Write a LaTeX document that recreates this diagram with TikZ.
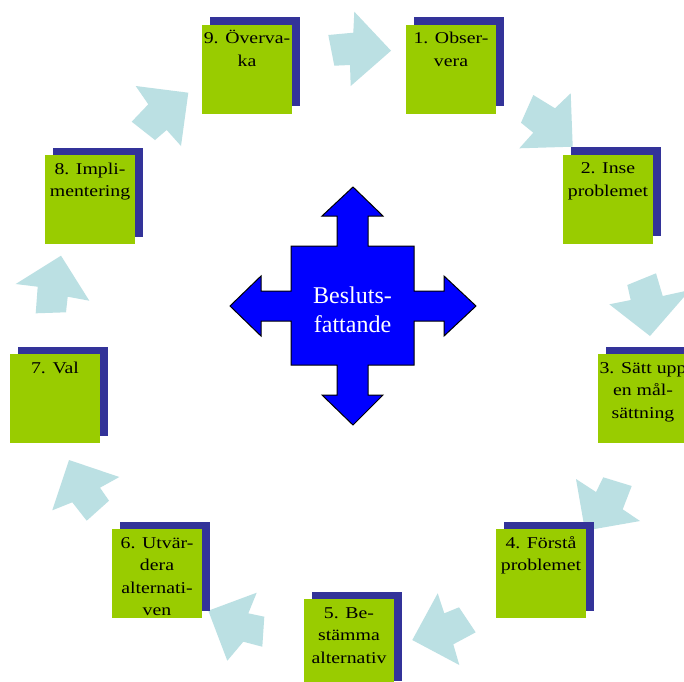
\documentclass[tikz,border=0pt]{standalone}
\usepackage{fontspec}
\usetikzlibrary{shadows}
\newfontfamily\boxfont[FakeStretch=1.2]{Liberation Serif}
\newfontfamily\hubfont{Liberation Serif}
\definecolor{stepgreen}{HTML}{99CC00}
\definecolor{stepshadow}{HTML}{333399}
\definecolor{flowblue}{HTML}{BBE0E3}
\definecolor{hubblue}{HTML}{0000FF}
\tikzset{
  stepbox/.style={rectangle, fill=stepgreen, minimum width=90pt, minimum height=89pt,
    inner sep=0pt, general shadow={fill=stepshadow, shadow xshift=7.5pt, shadow yshift=7.5pt}},
  steptext/.style={anchor=north, inner sep=0pt, align=center,
    font=\boxfont\fontsize{16.5pt}{22.5pt}\selectfont},
  flowarrow/.style={fill=flowblue, draw=none},
  hubshape/.style={fill=hubblue, draw=black, line width=1pt, line join=miter},
  hubtext/.style={text=white, align=center, inner sep=0pt,
    font=\hubfont\fontsize{24pt}{29pt}\selectfont}
}
\newcommand{\firstline}{\rule{0pt}{17pt}}
\begin{document}
\begin{tikzpicture}[x=1pt, y=-1pt]
\clip (0,0) rectangle (684,681);
\fill[white] (0,0) rectangle (684,681);

% circular flow arrows between the steps
\fill[flowarrow] (328.3,35) -- (353.3,32.7) -- (354.3,11.7) -- (391,50.7) -- (350.7,86) -- (350,65) -- (334.3,65.7) -- cycle;
\fill[flowarrow] (533.3,95) -- (555,108.3) -- (570.7,93.3) -- (572.7,146.7) -- (519.3,148.3) -- (533.3,132.7) -- (521,122.7) -- cycle;
\fill[flowarrow] (656,273.3) -- (662.7,296) -- (690,290) -- (650,336) -- (609.3,304.3) -- (630.7,300) -- (627.3,285) -- cycle;
\fill[flowarrow] (603.3,477.3) -- (631.7,486) -- (622.7,509.3) -- (640,521) -- (585,530.7) -- (576,479) -- (596,492) -- cycle;
\fill[flowarrow] (459,607.3) -- (475.7,632.3) -- (453.3,644.3) -- (459.3,665) -- (412.3,640) -- (437.7,593.3) -- (444.3,613.3) -- cycle;
\fill[flowarrow] (264.3,616.7) -- (262.3,646.7) -- (243.3,641.7) -- (227.3,660.7) -- (208.3,610.7) -- (256.7,592.7) -- (248.3,613.3) -- cycle;
\fill[flowarrow] (109,500.7) -- (86.7,520.7) -- (72.3,502.3) -- (52.3,510.3) -- (69,460) -- (119.3,477) -- (100,487.7) -- cycle;
\fill[flowarrow] (66,312.3) -- (35.7,313.3) -- (37.7,286.7) -- (15.7,284) -- (61,255.7) -- (89.3,300.7) -- (67.7,296.7) -- cycle;
\fill[flowarrow] (155,140) -- (131.7,121.7) -- (148.3,104.3) -- (135.7,86) -- (188.3,92.7) -- (181,146) -- (166.7,130) -- cycle;

% the nine steps
\node[stepbox] (s1) at (451,69) {};
\node[stepbox] (s2) at (608,199) {};
\node[stepbox] (s3) at (643,398.5) {};
\node[stepbox] (s4) at (541,573.5) {};
\node[stepbox] (s5) at (349,643.5) {};
\node[stepbox] (s6) at (157,573.5) {};
\node[stepbox] (s7) at (55,398.5) {};
\node[stepbox] (s8) at (90,199.5) {};
\node[stepbox] (s9) at (247,69) {};

\node[steptext] (t1) at ([yshift=-2pt]s1.north) {\firstline 1. Obser-\\vera};
\node[steptext] (t2) at ([yshift=-2pt]s2.north) {\firstline 2. Inse\\problemet};
\node[steptext] (t3) at ([yshift=-2pt]s3.north) {\firstline 3. Sätt upp\\en mål-\\sättning};
\node[steptext] (t4) at ([yshift=-2pt]s4.north) {\firstline 4. Förstå\\problemet};
\node[steptext] (t5) at ([yshift=-2pt]s5.north) {\firstline 5. Be-\\stämma\\alternativ};
\node[steptext] (t6) at ([yshift=-2pt]s6.north) {\firstline 6. Utvär-\\dera\\alternati-\\ven};
\node[steptext] (t7) at ([yshift=-2pt]s7.north) {\firstline 7. Val};
\node[steptext] (t8) at ([yshift=-2pt]s8.north) {\firstline 8. Impli-\\mentering};
\node[steptext] (t9) at ([yshift=-2pt]s9.north) {\firstline 9. Överva-\\ka};

% central four-way arrow
\draw[hubshape] (353,187) -- (383,216) -- (368,216) -- (368,246) -- (414,246) -- (414,291)
  -- (444,291) -- (444,276) -- (476,306) -- (444,336) -- (444,321) -- (414,321)
  -- (414,365) -- (368,365) -- (368,395) -- (383,395) -- (353,425) -- (322,395)
  -- (337,395) -- (337,365) -- (291,365) -- (291,321) -- (261,321) -- (261,336)
  -- (230,306) -- (261,276) -- (261,291) -- (291,291) -- (291,246) -- (337,246)
  -- (337,216) -- (322,216) -- cycle;
\node[hubtext] (hub) at (352.5,310) {Besluts-\\fattande};
\end{tikzpicture}
\end{document}
